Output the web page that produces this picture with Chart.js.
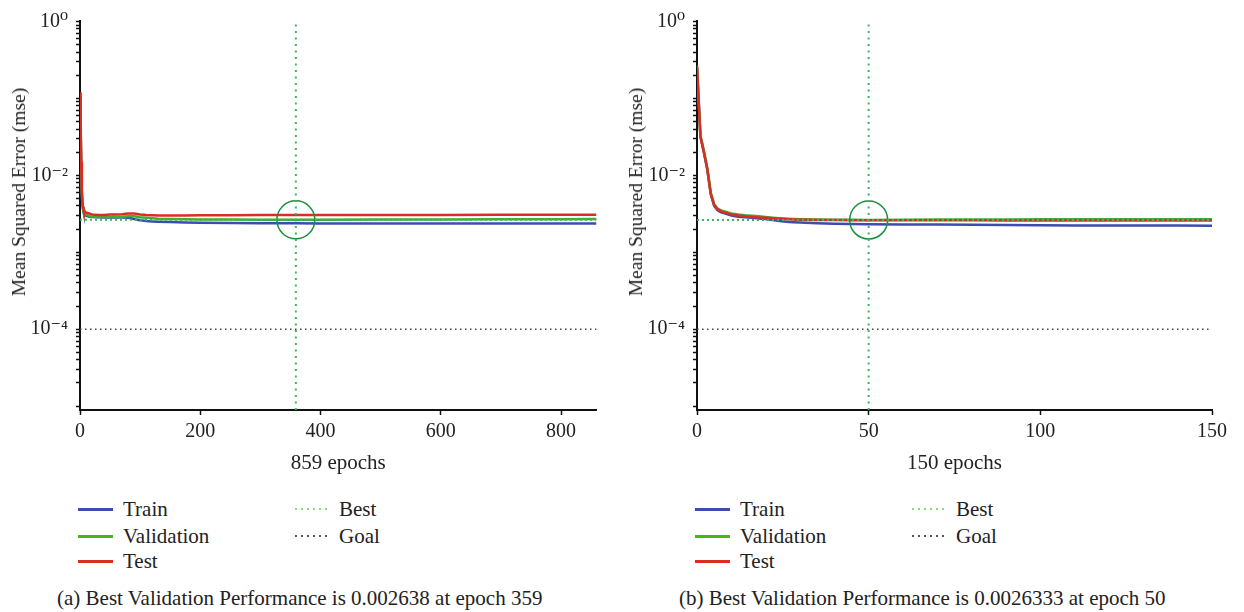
<!DOCTYPE html>
<html>
<head>
<meta charset="utf-8">
<title>Training performance</title>
<script src="https://cdn.jsdelivr.net/npm/chart.js@4.4.1/dist/chart.umd.min.js"></script>
<style>
  body { margin: 0; background: #fff; font-family: "Liberation Serif", "DejaVu Serif", serif; color: #222; }
  #page { position: relative; width: 1244px; height: 612px; overflow: hidden; }
  .panel { position: absolute; top: 0; height: 612px; }
  .panel canvas { position: absolute; left: 0; top: 0; }
  .ylabel { position: absolute; left: 19px; top: 192px; transform: translate(-50%, -50%) rotate(-90deg); white-space: nowrap; font-size: 19.5px; }
  .legend-item { position: absolute; height: 24px; font-size: 21px; line-height: 24px; white-space: nowrap; }
  .legend-item .swatch { position: absolute; left: 0; top: 11px; width: 35px; height: 3px; }
  .legend-item .text { position: absolute; top: 0; }
  .caption { position: absolute; top: 586px; font-size: 21px; line-height: 24px; white-space: nowrap; }
</style>
</head>
<body>
<div id="page">
  <div class="panel" id="panelA" style="left:0;width:617px">
    <canvas id="chartA" width="617" height="480"></canvas>
  </div>
  <div class="panel" id="panelB" style="left:617px;width:627px">
    <canvas id="chartB" width="627" height="480"></canvas>
  </div>
</div>
<script>
// (a) 859 epochs run
const epochsA = [0, 1, 2, 3, 4, 5, 6, 8, 10, 15, 20, 30, 40, 50, 60, 70, 80, 85, 90, 95, 100, 110, 120, 130, 150, 175, 200, 250, 300, 359, 400, 500, 600, 700, 800, 859];
const trainA = [0.11, 0.045, 0.014, 0.006, 0.0042, 0.0036, 0.0033, 0.0031, 0.003, 0.0029, 0.00288, 0.00285, 0.00284, 0.00283, 0.00282, 0.00282, 0.0028, 0.00277, 0.0027, 0.00265, 0.0026, 0.00255, 0.00252, 0.0025, 0.00247, 0.00244, 0.00242, 0.0024, 0.00239, 0.00238, 0.00237, 0.00237, 0.00236, 0.00236, 0.00236, 0.00236];
const valA = [0.115, 0.047, 0.0145, 0.0062, 0.0043, 0.0037, 0.0034, 0.0032, 0.0031, 0.00295, 0.0029, 0.00288, 0.00287, 0.00288, 0.00288, 0.0029, 0.00293, 0.00295, 0.00293, 0.0029, 0.00285, 0.0028, 0.00276, 0.00273, 0.0027, 0.00268, 0.00267, 0.00266, 0.00265, 0.002638, 0.00265, 0.00266, 0.00267, 0.00268, 0.00269, 0.0027];
const testA = [0.12, 0.05, 0.015, 0.0065, 0.0045, 0.0039, 0.0036, 0.0034, 0.0033, 0.0032, 0.0031, 0.00305, 0.00305, 0.0031, 0.0031, 0.00312, 0.00318, 0.0032, 0.0032, 0.00315, 0.0031, 0.00305, 0.00302, 0.003, 0.003, 0.003, 0.00302, 0.00303, 0.00304, 0.00306, 0.00306, 0.00306, 0.00306, 0.00307, 0.00307, 0.00307];
const bestEpochA = 359;
const bestValueA = 0.002638;
const maxEpochA = 859;
const xTicksA = [0, 200, 400, 600, 800];

// (b) 150 epochs run
const epochsB = [0, 1, 2, 3, 4, 5, 6, 7, 8, 10, 12, 14, 16, 18, 20, 22, 24, 26, 28, 30, 35, 40, 45, 50, 60, 70, 80, 90, 100, 110, 120, 130, 140, 150];
const trainB = [0.25, 0.032, 0.02, 0.012, 0.0057, 0.004, 0.0035, 0.0033, 0.0032, 0.003, 0.0029, 0.00285, 0.0028, 0.00275, 0.0027, 0.00262, 0.00255, 0.0025, 0.00246, 0.00243, 0.00238, 0.00235, 0.00233, 0.00232, 0.0023, 0.00229, 0.00228, 0.00226, 0.00224, 0.00223, 0.00223, 0.00222, 0.00222, 0.00221];
const valB = [0.25, 0.033, 0.021, 0.0125, 0.006, 0.0042, 0.0037, 0.0035, 0.0034, 0.0032, 0.0031, 0.00303, 0.00298, 0.00293, 0.00288, 0.00282, 0.00277, 0.00273, 0.0027, 0.00268, 0.00266, 0.00265, 0.00264, 0.0026333, 0.00265, 0.00266, 0.00267, 0.00267, 0.00268, 0.00268, 0.00268, 0.00269, 0.00269, 0.00269];
const testB = [0.27, 0.032, 0.02, 0.012, 0.0058, 0.0041, 0.0036, 0.0034, 0.0033, 0.0031, 0.003, 0.00293, 0.00288, 0.00284, 0.0028, 0.00276, 0.00273, 0.0027, 0.00267, 0.00265, 0.00263, 0.00262, 0.00261, 0.0026, 0.0026, 0.0026, 0.0026, 0.00259, 0.00259, 0.00259, 0.00259, 0.00259, 0.00259, 0.00259];
const bestEpochB = 50;
const bestValueB = 0.0026333;
const maxEpochB = 150;
const xTicksB = [0, 50, 100, 150];

const goalValue = 1e-4;
const seriesNames = ['Train', 'Validation', 'Test'];
const yMajorTicks = [1, 1e-2, 1e-4];
const yMajorLabels = ['10⁰', '10⁻²', '10⁻⁴'];
const yTitle = 'Mean Squared Error (mse)';

const Y_MIN = 8.9e-6;
const Y_MAX = 1.03;
const FONT = '"Liberation Serif", "DejaVu Serif", serif';

const colors = {
  train: '#3d4bb3',
  validation: '#43ac2c',
  test: '#dc2d23',
  best: 'rgb(60,178,100)',
  bestKey: '#86dc72',
  circle: '#17913f',
  goal: '#444',
  axis: '#111'
};

// minor ticks 1..9 x 10^n for every decade on the log axis
const yTickValues = [];
for (let e = -5; e < 0; e++) {
  for (let m = 1; m <= 9; m++) yTickValues.push(m * Math.pow(10, e));
}
yTickValues.push(1);

function pts(xs, ys) {
  return xs.map((x, i) => ({ x: x, y: ys[i] }));
}

function makePanel(id, run) {
  const curve = (label, ys, color, order) => ({
    label: label, data: pts(run.epochs, ys), borderColor: color,
    borderWidth: 2.5, pointRadius: 0, tension: 0, order: order
  });

  return new Chart(document.getElementById(id), {
    type: 'line',
    data: {
      datasets: [
        { label: 'Best', data: [{ x: 0, y: run.bestValue }, { x: run.maxEpoch, y: run.bestValue }],
          borderColor: colors.best, borderWidth: 2, borderDash: [2, 3], pointRadius: 0, order: 0 },
        { data: [{ x: run.bestEpoch, y: Y_MIN }, { x: run.bestEpoch, y: Y_MAX }],
          borderColor: colors.best, borderWidth: 2, borderDash: [2, 4.5], pointRadius: 0, order: 0 },
        { data: [{ x: run.bestEpoch, y: run.bestValue }], showLine: false,
          pointRadius: 19, pointBorderWidth: 1.5, pointBorderColor: colors.circle,
          pointBackgroundColor: 'rgba(0,0,0,0)', order: 0 },
        curve(seriesNames[2], run.test, colors.test, 1),
        curve(seriesNames[1], run.val, colors.validation, 2),
        curve(seriesNames[0], run.train, colors.train, 3),
        { label: 'Goal', data: [{ x: 0, y: goalValue }, { x: run.maxEpoch, y: goalValue }],
          borderColor: colors.goal, borderWidth: 1.5, borderDash: [1.5, 3.5], pointRadius: 0, order: 4 }
      ]
    },
    options: {
      responsive: false,
      animation: false,
      events: [],
      layout: { padding: { top: 13, right: run.padRight, left: 0, bottom: 0 } },
      plugins: {
        legend: { display: false },
        tooltip: { enabled: false }
      },
      scales: {
        x: {
          type: 'linear',
          min: 0,
          max: run.maxEpoch,
          afterBuildTicks: s => { s.ticks = run.xTicks.map(v => ({ value: v })); },
          afterFit: s => { s.height = 70; },
          border: { color: colors.axis, width: 2 },
          grid: { drawOnChartArea: false, tickLength: 5, tickColor: colors.axis, tickWidth: 1.5 },
          ticks: { padding: 5, maxRotation: 0, color: '#222', font: { family: FONT, size: 20 } },
          title: { display: true, text: run.maxEpoch + ' epochs', color: '#222',
                   font: { family: FONT, size: 21 }, padding: { top: 0, bottom: 4 } }
        },
        y: {
          type: 'logarithmic',
          min: Y_MIN,
          max: Y_MAX,
          afterBuildTicks: s => { s.ticks = yTickValues.map(v => ({ value: v })); },
          afterFit: s => { s.width = 80; },
          border: { color: colors.axis, width: 2 },
          grid: { drawOnChartArea: false, tickLength: 4, tickColor: colors.axis, tickWidth: 1.5 },
          ticks: {
            autoSkip: false,
            padding: 8,
            color: '#222',
            font: { family: FONT, size: 20 },
            callback: v => {
              const i = yMajorTicks.findIndex(t => Math.abs(t - v) / t < 1e-6);
              return i >= 0 ? yMajorLabels[i] : '';
            }
          }
        }
      }
    }
  });
}

// legend, axis title and caption laid out under each plot
function decoratePanel(panelId, caption, captionLeft) {
  const panel = document.getElementById(panelId);

  const yl = document.createElement('div');
  yl.className = 'ylabel';
  yl.textContent = yTitle;
  panel.appendChild(yl);

  const keys = [
    { text: seriesNames[0], bg: colors.train, col: 0, row: 0 },
    { text: seriesNames[1], bg: '#49b41c', col: 0, row: 1 },
    { text: seriesNames[2], bg: colors.test, col: 0, row: 2 },
    { text: 'Best', bg: 'repeating-linear-gradient(90deg,' + colors.bestKey + ' 0 2px, transparent 2px 6px)', col: 1, row: 0, dotted: true },
    { text: 'Goal', bg: 'repeating-linear-gradient(90deg,#555 0 2px, transparent 2px 6px)', col: 1, row: 1, dotted: true }
  ];
  const colX = [78, 295];
  const rowY = [497, 524, 549];
  keys.forEach(k => {
    const item = document.createElement('div');
    item.className = 'legend-item';
    item.style.left = colX[k.col] + 'px';
    item.style.top = rowY[k.row] + 'px';
    const sw = document.createElement('span');
    sw.className = 'swatch';
    sw.style.background = k.bg;
    if (k.dotted) sw.style.height = '2px';
    const tx = document.createElement('span');
    tx.className = 'text';
    tx.style.left = (k.col === 0 ? 45 : 44) + 'px';
    tx.textContent = k.text;
    item.appendChild(sw);
    item.appendChild(tx);
    panel.appendChild(item);
  });

  const cap = document.createElement('div');
  cap.className = 'caption';
  cap.style.left = captionLeft + 'px';
  cap.textContent = caption;
  panel.appendChild(cap);
}

document.addEventListener('DOMContentLoaded', () => {
  makePanel('chartA', {
    epochs: epochsA, train: trainA, val: valA, test: testA,
    bestEpoch: bestEpochA, bestValue: bestValueA, maxEpoch: maxEpochA,
    xTicks: xTicksA, padRight: 20
  });
  makePanel('chartB', {
    epochs: epochsB, train: trainB, val: valB, test: testB,
    bestEpoch: bestEpochB, bestValue: bestValueB, maxEpoch: maxEpochB,
    xTicks: xTicksB, padRight: 32
  });
  decoratePanel('panelA', '(a) Best Validation Performance is ' + bestValueA + ' at epoch ' + bestEpochA, 57);
  decoratePanel('panelB', '(b) Best Validation Performance is ' + bestValueB + ' at epoch ' + bestEpochB, 62);
});
</script>
</body>
</html>
